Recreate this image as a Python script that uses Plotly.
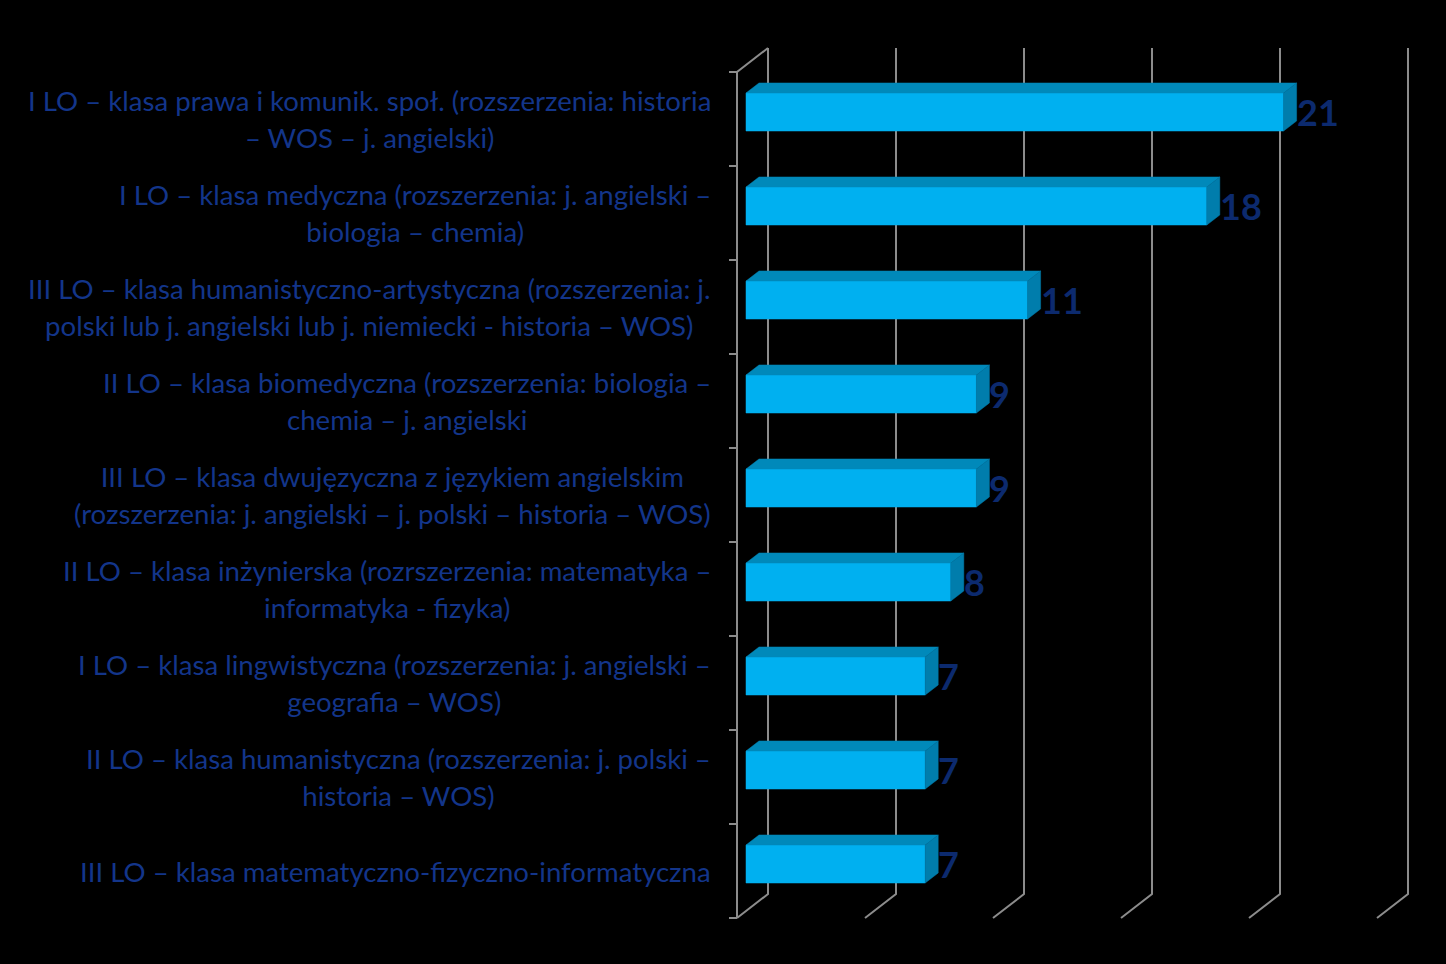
import plotly.graph_objects as go

# ---------------- data ----------------
categories = [
    "I LO – klasa prawa i komunik. społ. (rozszerzenia: historia<br>– WOS – j. angielski)",
    "I LO – klasa medyczna (rozszerzenia: j. angielski –<br>biologia – chemia)",
    "III LO – klasa humanistyczno-artystyczna (rozszerzenia: j.<br>polski lub j. angielski lub j. niemiecki - historia – WOS)",
    "II LO – klasa biomedyczna (rozszerzenia: biologia –<br>chemia – j. angielski",
    "III LO – klasa dwujęzyczna z językiem angielskim<br>(rozszerzenia: j. angielski – j. polski – historia – WOS)",
    "II LO – klasa inżynierska (rozrszerzenia: matematyka –<br>informatyka - fizyka)",
    "I LO – klasa lingwistyczna (rozszerzenia: j. angielski –<br>geografia – WOS)",
    "II LO – klasa humanistyczna (rozszerzenia: j. polski –<br>historia – WOS)",
    "III LO – klasa matematyczno-fizyczno-informatyczna",
]
values = [21, 18, 11, 9, 9, 8, 7, 7, 7]
grid_ticks = [0, 5, 10, 15, 20, 25]

# ---------------- geometry (pseudo-3D oblique projection) ----------------
W, H = 1446, 964
PX_PER_UNIT = 25.6          # pixels per value unit
X0 = 737                    # pixel x of value 0 on front plane
Y0 = 918                    # pixel y of floor on front plane
ROW = 94                    # pixels per category row
DEPTH_X = 31 / PX_PER_UNIT  # depth offset (value units)
DEPTH_Y = 24 / ROW          # depth offset (row units)
D1, D2 = 9 / 31, 22 / 31    # bar front / back depth
HALF = 19 / ROW             # half bar height
n = len(categories)

FRONT = "#00B0F0"
TOP = "#0089BA"
SIDE = "#007DAC"
GRID = "#8C8C8C"
LABEL = "#13358A"
VALUE = "#0C2A6E"


def P(v, y, d):
    return v + DEPTH_X * d, y + DEPTH_Y * d


def row_center(i):
    return n - i - 0.5


fig = go.Figure()

# grid / walls
gx, gy = [], []
for t in grid_ticks:
    for pt in (P(t, 0, 0), P(t, 0, 1), P(t, n, 1)):
        gx.append(pt[0]); gy.append(pt[1])
    gx.append(None); gy.append(None)
# front-left axis and top diagonal
for pt in (P(0, 0, 0), P(0, n, 0), P(0, n, 1)):
    gx.append(pt[0]); gy.append(pt[1])
gx.append(None); gy.append(None)
# ticks on front-left axis
tick_len = 8 / PX_PER_UNIT
for k in range(n + 1):
    gx += [-tick_len, 0, None]
    gy += [k, k, None]
fig.add_trace(go.Scatter(x=gx, y=gy, mode="lines",
                         line=dict(color=GRID, width=2),
                         hoverinfo="skip", showlegend=False))

# bars
fx, fy, tx, ty, sx, sy = [], [], [], [], [], []
for i, v in enumerate(values):
    yc = row_center(i)
    lo, hi = yc - HALF, yc + HALF
    for pt in (P(0, lo, D1), P(v, lo, D1), P(v, hi, D1), P(0, hi, D1), P(0, lo, D1)):
        fx.append(pt[0]); fy.append(pt[1])
    fx.append(None); fy.append(None)
    for pt in (P(0, hi, D1), P(v, hi, D1), P(v, hi, D2), P(0, hi, D2), P(0, hi, D1)):
        tx.append(pt[0]); ty.append(pt[1])
    tx.append(None); ty.append(None)
    for pt in (P(v, lo, D1), P(v, hi, D1), P(v, hi, D2), P(v, lo, D2), P(v, lo, D1)):
        sx.append(pt[0]); sy.append(pt[1])
    sx.append(None); sy.append(None)

for xs, ys, col in ((fx, fy, FRONT), (tx, ty, TOP), (sx, sy, SIDE)):
    fig.add_trace(go.Scatter(x=xs, y=ys, mode="lines", fill="toself",
                             fillcolor=col, line=dict(color=col, width=0.5),
                             hoverinfo="skip", showlegend=False))

# value labels
lab_shift = -2 / PX_PER_UNIT
for i, v in enumerate(values):
    yc = row_center(i)
    x_lab = P(v, yc, D2)[0] + lab_shift
    y_lab = P(v, yc, D1)[1]
    fig.add_annotation(x=x_lab, y=y_lab, xref="x", yref="y", text=str(v),
                       showarrow=False, xanchor="left", yanchor="middle",
                       font=dict(family="Lato", size=36, color=VALUE, weight="bold"))

# category labels
label_right = (713 - X0) / PX_PER_UNIT
for i, c in enumerate(categories):
    lines = c.split("<br>")
    txt = "<br>".join(f"<span style='font-size:27.6px'>{ln}</span>" for ln in lines)
    fig.add_annotation(x=label_right, y=row_center(i), xref="x", yref="y",
                       text=txt, showarrow=False, xanchor="right", yanchor="middle",
                       align="center",
                       font=dict(family="Lato", size=28.5, color=LABEL))

fig.update_layout(
    width=W, height=H,
    margin=dict(l=0, r=0, t=0, b=0),
    paper_bgcolor="black", plot_bgcolor="black",
    xaxis=dict(range=[(0 - X0) / PX_PER_UNIT, (W - X0) / PX_PER_UNIT],
               visible=False, fixedrange=True),
    yaxis=dict(range=[(Y0 - H) / ROW, Y0 / ROW], visible=False, fixedrange=True),
    showlegend=False,
)

fig.write_html("out.html")
